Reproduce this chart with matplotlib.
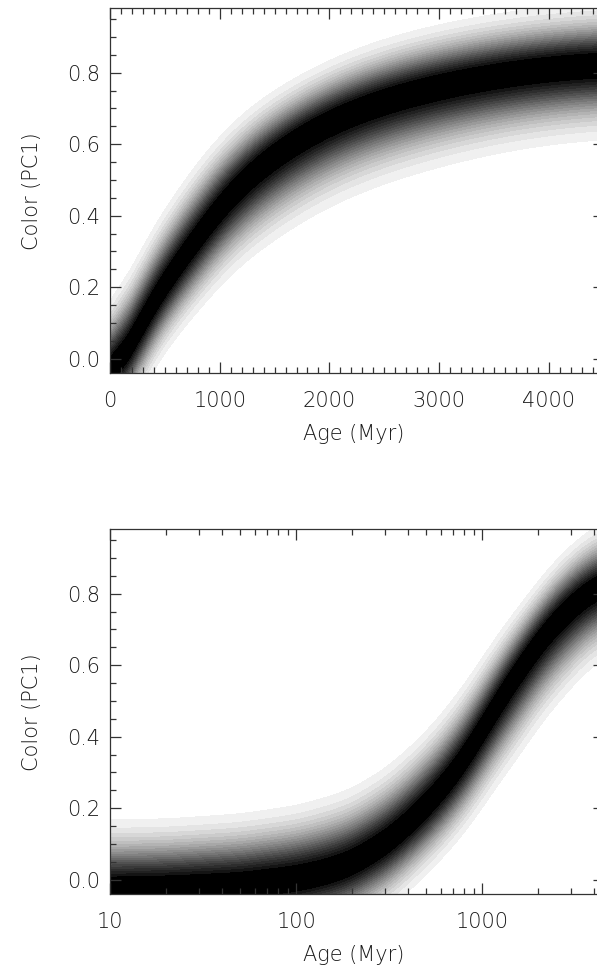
import numpy as np
import matplotlib
matplotlib.use("Agg")
import matplotlib.pyplot as plt
from matplotlib.ticker import (MultipleLocator, FixedLocator, LogLocator,
                               FormatStrFormatter, NullFormatter)

plt.rcParams["font.family"] = ["DejaVu Sans"]
plt.rcParams["font.weight"] = "light"
plt.rcParams["axes.labelweight"] = "light"

# centre of the colour band (darkest ridge)
age = [0, 10, 20, 50, 100, 150, 200, 300, 400, 500, 600, 800, 1000,
       1250, 1500, 2000, 2500, 3000, 3500, 4000, 4500]
center = [-0.03, -0.028, -0.025, -0.016, 0.002, 0.022, 0.045, 0.10, 0.155,
          0.205, 0.25, 0.335, 0.42, 0.505, 0.57, 0.665, 0.725, 0.765,
          0.795, 0.815, 0.83]
# distance from ridge to the outermost grey level, above and below
upper_hw = [0.195, 0.195, 0.195, 0.2, 0.205, 0.21, 0.21, 0.21, 0.21, 0.21,
            0.21, 0.21, 0.2, 0.19, 0.18, 0.17, 0.17, 0.17, 0.17, 0.17, 0.17]
lower_hw = [0.195, 0.195, 0.195, 0.195, 0.195, 0.19, 0.19, 0.19, 0.19, 0.19,
            0.195, 0.205, 0.22, 0.23, 0.24, 0.24, 0.235, 0.23, 0.22, 0.215,
            0.21]

x_ticks_lin = [0, 1000, 2000, 3000, 4000]
x_ticks_log = [10, 100, 1000]
y_ticks = [0.0, 0.2, 0.4, 0.6, 0.8]

N_LEV = 20
K = 2.5
z_lo = np.exp(-0.5 * K ** 2)
z_hi = np.exp(-0.5 * (0.18 * K) ** 2)
levels = list(np.linspace(z_lo, z_hi, N_LEV)) + [1.01]
greys = np.linspace(0.94, 0.08, N_LEV - 1)
colors = [(g, g, g) for g in greys] + [(0, 0, 0)]

cgrid = np.linspace(-0.04, 0.98, 600)

# smooth the read values along log(age) so the ridge has no corners
s_read = np.log10(np.array(age) + 5.0)
s_fine = np.linspace(s_read[0], s_read[-1], 2000)


def smooth(vals, width=0.05):
    v = np.interp(s_fine, s_read, vals)
    ds = s_fine[1] - s_fine[0]
    n = int(3 * width / ds)
    k = np.exp(-0.5 * (np.arange(-n, n + 1) * ds / width) ** 2)
    k /= k.sum()
    vp = np.concatenate([np.full(n, v[0]), v, np.full(n, v[-1])])
    return np.convolve(vp, k, mode="valid")


cen_s = smooth(center)
up_s = smooth(upper_hw)
lo_s = smooth(lower_hw)


def band(t):
    s = np.log10(t + 5.0)
    cen = np.interp(s, s_fine, cen_s)
    up = np.interp(s, s_fine, up_s)
    lo = np.interp(s, s_fine, lo_s)
    T, C = np.meshgrid(t, cgrid)
    d = C - cen[None, :]
    hw = np.where(d > 0, up[None, :], lo[None, :])
    Z = np.exp(-0.5 * (K * d / hw) ** 2)
    return T, C, Z


TXT = "#1a1a1a"


def style(ax):
    ax.set_ylim(-0.04, 0.98)
    ax.yaxis.set_major_locator(FixedLocator(y_ticks))
    ax.yaxis.set_minor_locator(MultipleLocator(0.05))
    ax.yaxis.set_major_formatter(FormatStrFormatter("%.1f"))
    ax.tick_params(which="both", direction="in", top=True, right=True,
                   width=0.9, color="#333333", labelcolor=TXT, labelsize=15)
    ax.tick_params(which="major", length=8)
    ax.tick_params(which="minor", length=4)
    ax.tick_params(axis="x", pad=13)
    ax.tick_params(axis="y", pad=7)
    for s in ax.spines.values():
        s.set_linewidth(0.9)
        s.set_color("#333333")
    ax.set_xlabel("Age (Myr)", fontsize=15, color=TXT, va="top",
                  fontweight="light")
    ax.set_ylabel("Color (PC1)", fontsize=15, color=TXT, fontweight="light")
    ax.xaxis.set_label_coords(0.5 * (597 - 110) / 493.7, -0.14)
    ax.yaxis.set_label_coords(-0.138, 0.5)


fig = plt.figure(figsize=(5.97, 9.73), dpi=100)

# linear age
ax1 = fig.add_axes([0.1843, 0.6166, 0.8269, 0.3749])
T, C, Z = band(np.linspace(0, 4500, 700))
ax1.contourf(T, C, Z, levels=levels, colors=colors)
ax1.set_xlim(0, 4500)
ax1.xaxis.set_major_locator(FixedLocator(x_ticks_lin))
ax1.xaxis.set_minor_locator(MultipleLocator(100))
ax1.xaxis.set_major_formatter(FormatStrFormatter("%d"))
style(ax1)

# log age
ax2 = fig.add_axes([0.1843, 0.0812, 0.8269, 0.3748])
T, C, Z = band(np.logspace(1, np.log10(4500), 700))
ax2.contourf(T, C, Z, levels=levels, colors=colors)
ax2.set_xscale("log")
ax2.set_xlim(10, 4500)
ax2.xaxis.set_major_locator(FixedLocator(x_ticks_log))
ax2.xaxis.set_major_formatter(FormatStrFormatter("%d"))
ax2.xaxis.set_minor_locator(LogLocator(base=10, subs=np.arange(2, 10)))
ax2.xaxis.set_minor_formatter(NullFormatter())
style(ax2)

fig.savefig("out.png", dpi=100)
